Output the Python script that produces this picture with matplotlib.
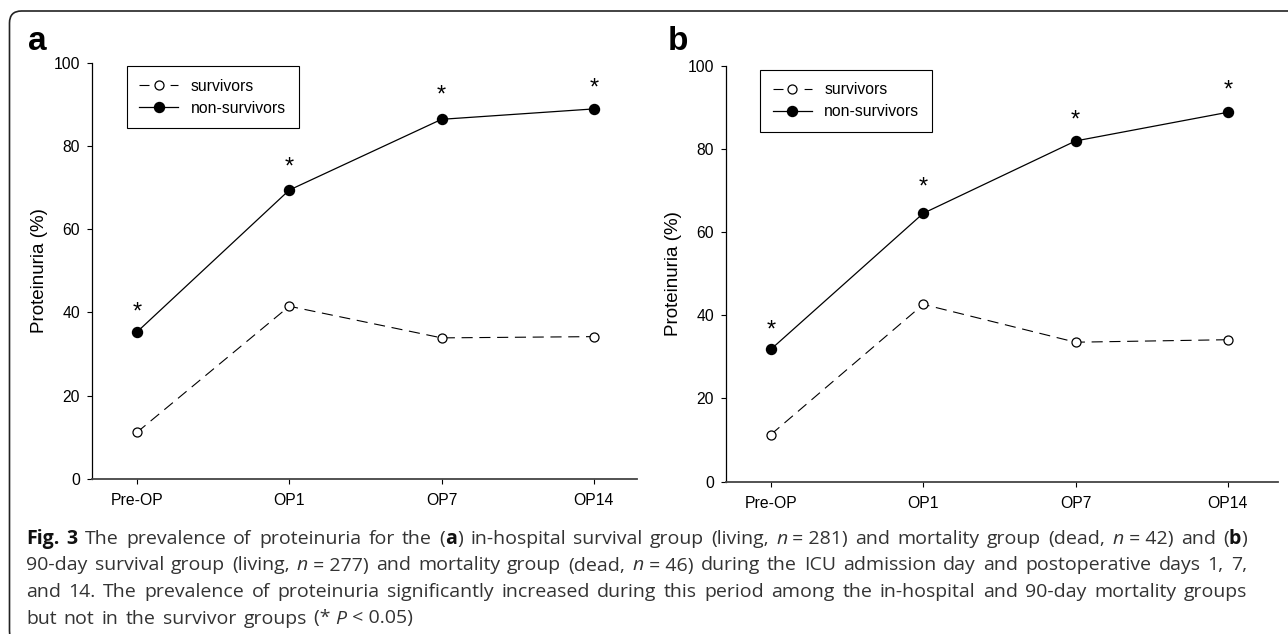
import matplotlib
matplotlib.use("Agg")
import matplotlib.pyplot as plt
from matplotlib.patches import FancyBboxPatch
from matplotlib.transforms import IdentityTransform, offset_copy

plt.rcParams['font.family'] = ['Liberation Sans', 'DejaVu Sans']

# data
timepoints = ["Pre-OP", "OP1", "OP7", "OP14"]
surv_a = [11.2, 41.5, 33.9, 34.2]
nonsurv_a = [35.3, 69.4, 86.4, 88.9]
star_a = [41.8, 76.8, 93.9, 95.8]
surv_b = [11.3, 42.6, 33.5, 34.1]
nonsurv_b = [31.8, 64.5, 81.9, 88.8]
star_b = [38.2, 72.5, 88.7, 95.9]

# caption, one list of (text, style) runs per line
caption_lines = [
    [("Fig. 3", "bold"), (" The prevalence of proteinuria for the (", "normal"), ("a", "bold"),
     (") in-hospital survival group (living, ", "normal"), ("n", "italic"),
     ("\u00a0=\u00a0281) and mortality group (dead, ", "normal"), ("n", "italic"),
     ("\u00a0=\u00a042) and (", "normal"), ("b", "bold"), (")", "normal")],
    [("90-day survival group (living, ", "normal"), ("n", "italic"),
     ("\u00a0=\u00a0277) and mortality group (dead, ", "normal"), ("n", "italic"),
     ("\u00a0=\u00a046) during the ICU admission day and postoperative days 1, 7,", "normal")],
    [("and 14. The prevalence of proteinuria significantly increased during this period among "
      "the in-hospital and 90-day mortality groups", "normal")],
    [("but not in the survivor groups (*\u00a0", "normal"), ("P", "italic"), ("\u00a0<\u00a00.05)", "normal")],
]

W, H = 1288, 634
fig = plt.figure(figsize=(W / 100, H / 100), dpi=100)


def px_axes(left, top, right, bottom):
    return fig.add_axes([left / W, 1 - bottom / H, (right - left) / W, (bottom - top) / H])


def draw_panel(ax, surv, nonsurv, stars, xmax, leg_anchor):
    x = list(range(len(timepoints)))
    ax.plot(x, surv, color='black', lw=0.8, ls=(0, (10, 6)), marker='o', ms=6.5,
            mfc='white', mec='black', mew=0.9, label='survivors')
    ax.plot(x, nonsurv, color='black', lw=0.9, marker='o', ms=7.2,
            mfc='black', mec='black', label='non-survivors')
    tr = offset_copy(ax.transData, fig=fig, y=-10, units='points')
    for xi, yi in zip(x, stars):
        ax.text(xi, yi, '*', ha='center', va='baseline', fontsize=17, transform=tr)
    ax.set_xlim(-0.295, xmax)
    ax.set_ylim(0, 100)
    ax.set_xticks(x)
    ax.set_xticklabels(timepoints)
    ax.set_yticks(range(0, 101, 20))
    ax.spines['top'].set_visible(False)
    ax.spines['right'].set_visible(False)
    ax.spines['left'].set_linewidth(0.9)
    ax.spines['bottom'].set_linewidth(1.3)
    ax.spines['bottom'].set_color('#444444')
    ax.tick_params(axis='both', direction='out', length=3.3, width=0.8, labelsize=11.3)
    ax.tick_params(axis='x', pad=7)
    ax.tick_params(axis='y', pad=5.4)
    ax.set_ylabel('Proteinuria (%)', fontsize=13.5, labelpad=4)
    leg = ax.legend(loc='upper left', bbox_to_anchor=leg_anchor, borderaxespad=0,
                    fontsize=11.3, fancybox=False, framealpha=1, edgecolor='black',
                    handlelength=2.5, handletextpad=0.8, borderpad=0.8, labelspacing=0.45)
    leg.get_frame().set_linewidth(0.8)
    # dash - marker - dash look for the open-circle handle
    leg.get_lines()[0].set_linestyle((0, (9, 19)))


ax_a = px_axes(92, 62.7, 637, 479)
ax_b = px_axes(726, 65.7, 1278, 481.5)
draw_panel(ax_a, surv_a, nonsurv_a, star_a, 3.283, (0.0635, 0.992))
draw_panel(ax_b, surv_b, nonsurv_b, star_b, 3.329, (0.0616, 0.99))

fig.text(28 / W, 1 - 50.5 / H, 'a', fontsize=24, fontweight='bold', va='baseline')
fig.text(668 / W, 1 - 50.5 / H, 'b', fontsize=24, fontweight='bold', va='baseline')

# rounded frame running off the right and bottom edge
frame = FancyBboxPatch((9.5, -9), 1400, H - 11 + 9, boxstyle="round,pad=0,rounding_size=12",
                       transform=IdentityTransform(), fill=False, lw=1.2, ec='#222222')
fig.add_artist(frame)

# justified caption
cap_font = ['Open Sans', 'DejaVu Sans']
cap_size = 14
styles = {
    'normal': dict(family=cap_font, fontsize=cap_size, color='#333333'),
    'bold': dict(family=cap_font, fontsize=cap_size, color='#111111', fontweight='bold'),
    'italic': dict(family=cap_font, fontsize=cap_size, color='#333333', style='italic'),
}
cap_left, cap_right = 26, 1247
baselines = [544, 570.5, 597, 623.5]

renderer = fig.canvas.get_renderer()


def width_of(t):
    return t.get_window_extent(renderer).width


probe1 = fig.text(0, 0, 'x x', **styles['normal'])
probe2 = fig.text(0, 0, 'xx', **styles['normal'])
space_w = width_of(probe1) - width_of(probe2)
probe1.remove()
probe2.remove()

for li, runs in enumerate(caption_lines):
    tokens = [[]]
    for text, style in runs:
        parts = text.split(' ')
        for i, part in enumerate(parts):
            if i > 0:
                tokens.append([])
            if part:
                tokens[-1].append((part, style))
    tokens = [t for t in tokens if t]
    placed = []
    total = 0
    for tok in tokens:
        items = []
        for part, style in tok:
            t = fig.text(0, 1 - baselines[li] / H, part, va='baseline', ha='left', **styles[style])
            w = width_of(t)
            items.append((t, w))
            total += w
        placed.append(items)
    if li < len(caption_lines) - 1:
        gap = (cap_right - cap_left - total) / (len(placed) - 1)
    else:
        gap = space_w * 1.4
    xpos = cap_left
    for items in placed:
        for t, w in items:
            t.set_x(xpos / W)
            xpos += w
        xpos += gap

fig.savefig('out.png', dpi=100)
